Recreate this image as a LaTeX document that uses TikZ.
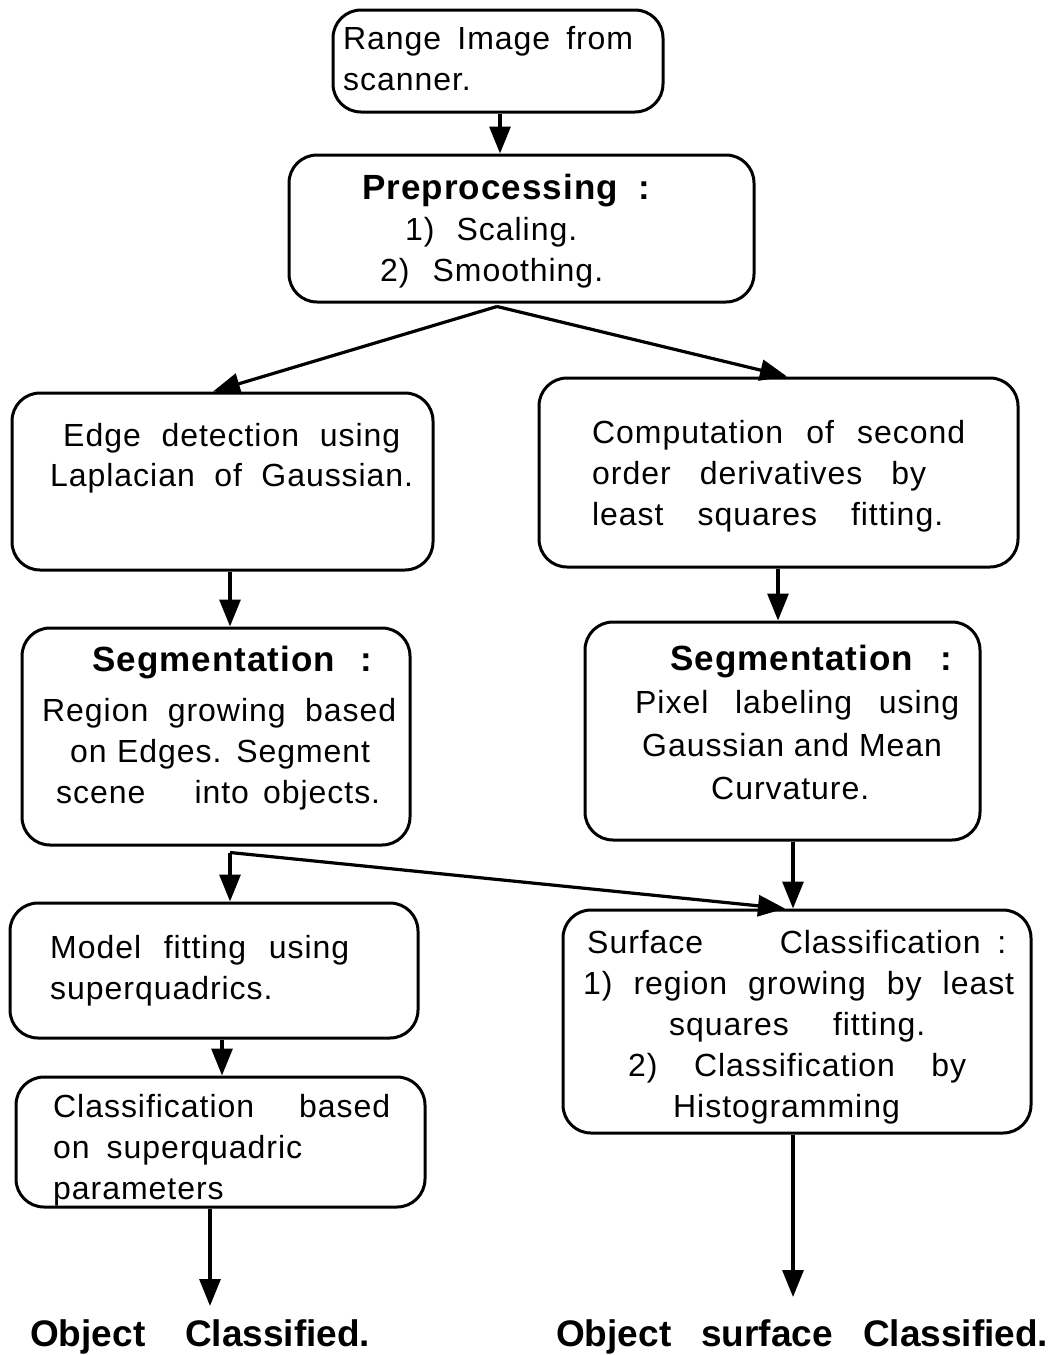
\documentclass[tikz,border=0pt]{standalone}
\usepackage{fontspec}
\setmainfont{Liberation Sans}[LetterSpace=3]
\newfontfamily\bottomfont{Liberation Sans}
\usetikzlibrary{arrows.meta,calc}
\newcommand{\J}[2]{\makebox[#1pt][s]{#2}}
\newcommand{\B}{\bfseries\fontsize{35}{41}\selectfont}
\begin{document}
\begin{tikzpicture}[x=1pt,y=-1pt,
  box/.style={draw, line width=3pt, rounded corners=28pt, inner sep=0pt, fill=white},
  txt/.style={anchor=base west, inner sep=0pt, align=left, font=\fontsize{32}{41}\selectfont},
  arr/.style={line width=3.2pt, -{Triangle[width=21pt,length=27pt]}},
  big/.style={anchor=base west, inner sep=0pt, font=\bottomfont\bfseries\fontsize{37}{44}\selectfont}]
\useasboundingbox[fill=white] (0,0) rectangle (1058,1355);

% boxes
\node[box, minimum width=330pt, minimum height=102pt] (range) at (498,61) {};
\node[box, minimum width=465pt, minimum height=147pt] (pre) at (521.5,228.5) {};
\node[box, minimum width=421pt, minimum height=177pt] (edge) at (222.5,481.5) {};
\node[box, minimum width=479pt, minimum height=189pt] (comp) at (778.5,472.5) {};
\node[box, minimum width=388pt, minimum height=217pt] (segL) at (216,736.5) {};
\node[box, minimum width=395pt, minimum height=218pt] (segR) at (782.5,731) {};
\node[box, minimum width=408pt, minimum height=135pt] (model) at (214,970.5) {};
\node[box, minimum width=409pt, minimum height=130pt] (cls) at (220.5,1142) {};
\node[box, minimum width=468pt, minimum height=223pt] (surf) at (797,1021.5) {};

% texts (anchored at the baseline of their last line)
\node[txt] (rangeT) at (343,90) {\J{290}{Range Image from}\\scanner.};
\node[txt] (preT) at (362,281) {\J{288}{\B Preprocessing :}\\
  \hspace*{43pt}\J{172}{1) Scaling.}\\
  \hspace*{18pt}\J{223}{2) Smoothing.}};
\node[txt] (edgeT) at (50,486) {\hspace*{13pt}\J{337}{Edge detection using}\\[-1pt]
  \J{363}{Laplacian of Gaussian.}};
\node[txt] (compT) at (592,525) {\J{373}{Computation of second}\\
  \J{334}{order derivatives by}\\
  \J{351}{least squares fitting.}};
\node[txt] (segLT) at (42,803) {\hspace*{50pt}\J{280}{\B Segmentation :}\\[9pt]
  \J{354}{Region growing based}\\
  \hspace*{28pt}\J{300}{on Edges. Segment}\\
  \hspace*{14pt}\J{324}{scene\hspace*{35pt} into objects.}};
\node[txt, font=\fontsize{32}{43}\selectfont] (segRT) at (635,799) {\hspace*{35pt}\J{282}{\B Segmentation :}\\
  \J{324}{Pixel labeling using}\\
  \hspace*{7pt}Gaussian and Mean\\
  \hspace*{76pt}Curvature.};
\node[txt] (modelT) at (50,999) {\J{299}{Model fitting using}\\superquadrics.};
\node[txt] (clsT) at (53,1199) {\J{337}{Classification based}\\
  \J{249}{on superquadric}\\
  parameters};
\node[txt] (surfT) at (583,1117) {\hspace*{4pt}\J{419}{Surface\hspace*{60pt} Classification :}\\
  \J{431}{1) region growing by least}\\
  \hspace*{86pt}\J{256}{squares fitting.}\\
  \hspace*{45pt}\J{338}{2) Classification by}\\
  \hspace*{90pt}Histogramming};

\node[big] (objL) at (30,1346) {\J{340}{Object Classified.}};
\node[big] (objR) at (556,1346) {\J{492}{Object surface Classified.}};

% helper x positions
\coordinate (x500) at (500,0);
\coordinate (x497) at (497,0);
\coordinate (x213) at (213,0);
\coordinate (x787) at (787,0);
\coordinate (x230) at (230,0);
\coordinate (x778) at (778,0);
\coordinate (x785) at (785,0);
\coordinate (x793) at (793,0);
\coordinate (x222) at (222,0);
\coordinate (x210) at (210,0);

% connectors
\draw[arr] (range.south -| x500) -- (pre.north -| x500);
\coordinate (apex) at ([yshift=-3pt]pre.south -| x497);
\draw[arr] (apex) -- (edge.north -| x213);
\draw[arr] (apex) -- (comp.north -| x787);
\draw[arr] (edge.south -| x230) -- (segL.north -| x230);
\draw[arr] (comp.south -| x778) -- (segR.north -| x778);
\coordinate (fork) at ([yshift=-6pt]segL.south -| x230);
\draw[arr] (fork) -- (model.north -| x230);
\draw[arr] (fork) -- (surf.north -| x785);
\draw[arr] (segR.south -| x793) -- (surf.north -| x793);
\draw[arr] (model.south -| x222) -- (cls.north -| x222);
\draw[arr, shorten >=13pt] (cls.south -| x210) -- (objL.north -| x210);
\draw[arr, shorten >=22pt] (surf.south -| x793) -- (objR.north -| x793);
\end{tikzpicture}
\end{document}
